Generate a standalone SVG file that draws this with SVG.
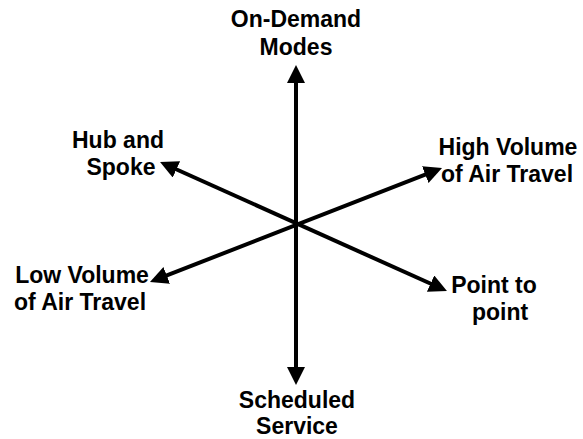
<svg xmlns="http://www.w3.org/2000/svg" width="583" height="439" viewBox="0 0 583 439">
<defs>
<style>
.lbl{font-family:"Liberation Sans",Arial,sans-serif;font-weight:bold;font-size:23px;fill:#000;text-anchor:middle}
.ax{stroke:#000;stroke-width:4;fill:none;marker-start:url(#ah);marker-end:url(#ah)}
</style>
<marker id="ah" markerUnits="userSpaceOnUse" markerWidth="18" markerHeight="18" refX="4" refY="9" orient="auto-start-reverse" viewBox="0 0 18 18">
<path d="M0,0 L18,9 L0,18 Z" fill="#000"/>
</marker>
</defs>
<rect width="583" height="439" fill="#fff"/>
<g id="connectors">
<line class="ax" x1="296" y1="79" x2="296" y2="371"/>
<line class="ax" x1="172.8" y1="167.7" x2="434.2" y2="285.3"/>
<line class="ax" x1="163" y1="276.9" x2="429" y2="173.1"/>
</g>
<g id="on-demand"><text class="lbl" x="296" y="27">On-Demand</text><text class="lbl" x="296" y="55">Modes</text></g>
<g id="scheduled"><text class="lbl" x="297" y="408">Scheduled</text><text class="lbl" x="297" y="434">Service</text></g>
<g id="hub"><text class="lbl" x="118" y="148">Hub and</text><text class="lbl" x="121" y="175">Spoke</text></g>
<g id="high"><text class="lbl" x="508" y="155">High Volume</text><text class="lbl" x="507" y="182">of Air Travel</text></g>
<g id="low"><text class="lbl" x="82" y="283">Low Volume</text><text class="lbl" x="80" y="310">of Air Travel</text></g>
<g id="p2p"><text class="lbl" x="494" y="293">Point to</text><text class="lbl" x="500" y="320">point</text></g>
</svg>
